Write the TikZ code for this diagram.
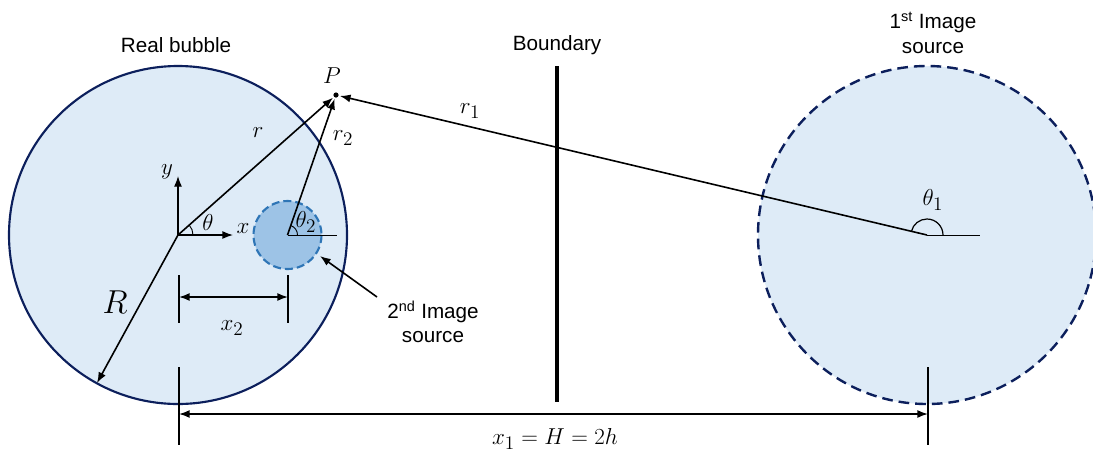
\documentclass[tikz,border=0pt]{standalone}
\usepackage{fontspec}
\setmainfont{Liberation Sans}
\usetikzlibrary{arrows.meta}
\definecolor{bubfill}{HTML}{DEEBF7}
\definecolor{navy}{HTML}{0C1F5C}
\definecolor{smallfill}{HTML}{9DC3E6}
\definecolor{smalledge}{HTML}{2E75B6}
\tikzset{
  lbl/.style={font=\fontsize{15.5}{18.5}\selectfont, inner sep=0pt, align=center},
  mlbl/.style={font=\fontsize{19}{21}\selectfont, inner sep=0pt},
  arr/.style={line width=1.2pt, -{Latex[length=8pt,width=6pt]}},
  darr/.style={line width=1.2pt, {Latex[length=8pt,width=6pt]}-{Latex[length=8pt,width=6pt]}},
  tickline/.style={line width=0.9pt},
  thinline/.style={line width=0.7pt},
}
\begin{document}
\begin{tikzpicture}[x=0.75pt,y=-0.75pt]
\useasboundingbox (0,0) rectangle (1093,455);
% coordinates
\coordinate (O) at (178,235);
\coordinate (S2) at (287.5,235);
\coordinate (S1) at (927,235);
\coordinate (P) at (336,95);
% circles
\draw[line width=1.6pt, draw=navy, fill=bubfill] (O) circle (169);
\begin{scope}
\clip (0,0) rectangle (1093,455);
\draw[line width=1.8pt, draw=navy, fill=bubfill, dash pattern=on 8pt off 4.5pt] (S1) circle (169);
\end{scope}
\draw[line width=1.6pt, draw=smalledge, fill=smallfill, dash pattern=on 6pt off 3pt] (S2) circle (34);
% boundary
\draw[line width=3pt] (557,66) coordinate (Btop) -- (557,402) coordinate (Bbot);
\node[lbl] (blabel) at (557,45) {Boundary};
\node[lbl] (rblabel) at (176,45) {Real bubble};
\node[lbl] (s1label) at (933,33) {1\textsuperscript{st} Image\\source};
\node[lbl] (s2label) at (433,322) {2\textsuperscript{nd} Image\\source};
% axes
\draw[arr, line width=1pt] (O) -- (233,235) coordinate (xend);
\draw[arr, line width=1pt] (O) -- (178,176) coordinate (yend);
\node[mlbl] (xl) at (243,229) {$x$};
\node[mlbl] (yl) at (167,172) {$y$};
% point P
\fill (P) circle (2.6);
\node[mlbl] (Pl) at (332,76) {$P$};
% radius vectors
\draw[arr, shorten >=3] (O) -- (P);
\draw[arr, shorten >=3] (S2) -- (P);
\draw[arr, shorten >=3] (S1) -- (P);
\node[mlbl] (rl) at (258,133) {$r$};
\node[mlbl] (r2l) at (343,138) {$r_2$};
\node[mlbl] (r1l) at (470,111) {$r_1$};
% R
\draw[arr] (O) -- ([shift={(O)}] -81,148) coordinate (Rtip);
\node[font=\fontsize{27}{29}\selectfont, inner sep=0pt] (Rl) at (115,302) {$R$};
% angle marks
\draw[thinline] (S2) -- (337,235) coordinate (s2h);
\draw[thinline] (S1) -- (980,235) coordinate (s1h);
\draw[thinline] ([shift={(O)}] 15,0) arc (0:-41.7:15);
\draw[thinline] ([shift={(S2)}] 10,0) arc (0:-70.7:10);
\draw[line width=0.9pt] ([shift={(S1)}] 16,0) arc (0:-166.9:16);
\node[mlbl] (thl) at (208,222) {$\theta$};
\node[mlbl] (th2l) at (306,222) {$\theta_2$};
\node[mlbl] (th1l) at (933,200) {$\theta_1$};
% 2nd image arrow
\draw[arr] (377,297) coordinate (s2a) -- (320,256) coordinate (s2b);
% x2 dimension
\draw[tickline] (179,275) coordinate (t1a) -- (179,323) coordinate (t1b);
\draw[tickline] (288,275) coordinate (t2a) -- (288,323) coordinate (t2b);
\draw[darr] (179,297) coordinate (d2a) -- (288,297) coordinate (d2b);
\node[mlbl] (x2l) at (232,328) {$x_2$};
% x1 dimension
\draw[tickline] (179,367) coordinate (t3a) -- (179,445) coordinate (t3b);
\draw[tickline] (928,367) coordinate (t4a) -- (928,445) coordinate (t4b);
\draw[darr] (179,414) coordinate (d1a) -- (928,414) coordinate (d1b);
\node[font=\fontsize{19}{21}\selectfont, inner sep=0pt] (x1l) at (555,439) {$x_1 = H = 2h$};
\end{tikzpicture}
\end{document}
